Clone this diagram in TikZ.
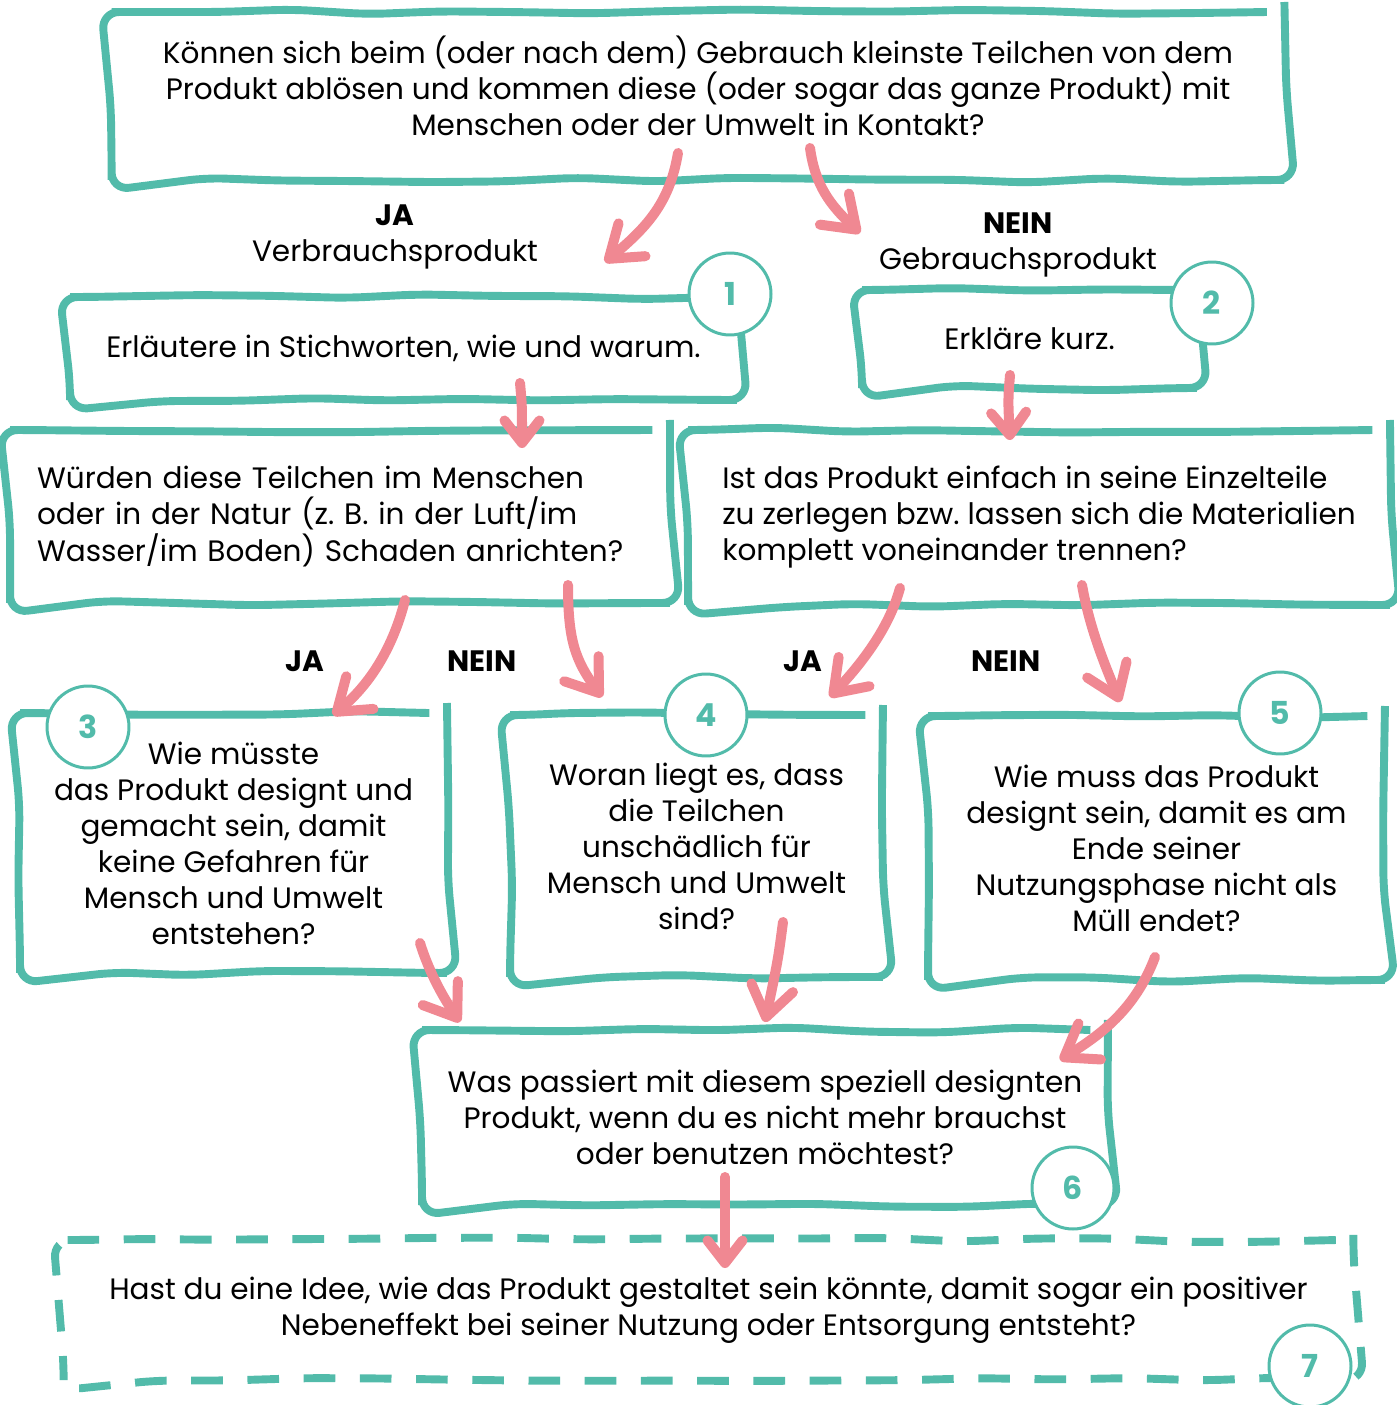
\documentclass[tikz,border=0pt]{standalone}
\usepackage{fontspec}
\setmainfont{Poppins}
\frenchspacing
\usetikzlibrary{arrows.meta,decorations.pathmorphing}
\definecolor{tealline}{HTML}{52BBAA}
\definecolor{pinkarrow}{HTML}{F08892}
\tikzset{
 box/.style={draw=tealline, line width=4.5pt, decorate,
  decoration={random steps, segment length=1.5cm, amplitude=1.5pt},
  rounded corners=10pt, align=center},
 dbox/.style={box, dash pattern=on 18pt off 14pt},
 num/.style={circle, draw=tealline, line width=1.7pt, fill=white,
  minimum size=1.64cm, text=tealline, font=\fontsize{18}{20}\selectfont\bfseries},
 lab/.style={align=center},
 jn/.style={font=\fontsize{16.8}{20.5}\selectfont\bfseries},
 arr/.style={draw=pinkarrow, line width=5.7pt, line cap=round,
  -{Straight Barb[length=6mm,width=8.5mm,round]}},
 sarr/.style={arr, -{Straight Barb[length=4.5mm,width=7mm,round]}},
}
\begin{document}
\begin{tikzpicture}[x=0.02cm, y=-0.02cm, font=\fontsize{16.8}{20.5}\selectfont]
 \useasboundingbox (0,0) rectangle (1396,1405);
 \pgfmathsetseed{3}
 \node[box, minimum width=23.46cm, minimum height=3.36cm] (frage) at (698,96)
  {Können sich beim (oder nach dem) Gebrauch kleinste Teilchen von dem\\
   Produkt ablösen und kommen diese (oder sogar das ganze Produkt) mit\\
   Menschen oder der Umwelt in Kontakt?\rule[-0.4cm]{0pt}{0pt}};
 \node[lab] (ja0) at (395,237) {\textbf{JA}\\Verbrauchsprodukt};
 \node[lab] (nein0) at (1018,245) {\textbf{NEIN}\\Gebrauchsprodukt};
 \node[box, minimum width=13.34cm, minimum height=2.06cm] (stich) at (403.5,348.5)
  {Erläutere in Stichworten, wie und warum.};
 \node[box, minimum width=6.7cm, minimum height=1.96cm] (kurz) at (1029.5,339)
  {Erkläre kurz.};
 \node[box, minimum width=13.2cm, minimum height=3.46cm, align=left,
  text width=12.12cm, inner xsep=0.54cm] (schaden) at (340,516.5)
  {Würden diese Teilchen im Menschen\\
   oder in der Natur (z.~B. in der Luft/im\\
   Wasser/im Boden) Schaden anrichten?};
 \node[box, minimum width=14.04cm, minimum height=3.5cm, align=left] (zerlegen) at (1039,517.5)
  {Ist das Produkt einfach in seine Einzelteile\\
   zu zerlegen bzw. lassen sich die Materialien\\
   komplett voneinander trennen?};
 \node[jn] (ja1) at (305,661) {JA};
 \node[jn] (nein1) at (482,661) {NEIN};
 \node[jn] (ja2) at (803,661) {JA};
 \node[jn] (nein2) at (1006,661) {NEIN};
 \node[box, minimum width=8.54cm, minimum height=5.2cm] (gefahr) at (233.5,843)
  {Wie müsste\\das Produkt designt und\\gemacht sein, damit\\keine Gefahren für\\
   Mensch und Umwelt\\entstehen?};
 \node[box, minimum width=7.46cm, minimum height=5.24cm] (woran) at (696.5,846)
  {Woran liegt es, dass\\die Teilchen\\unschädlich für\\Mensch und Umwelt\\sind?};
 \node[box, minimum width=9.14cm, minimum height=5.28cm] (muell) at (1156.5,848)
  {Wie muss das Produkt\\designt sein, damit es am\\Ende seiner\\
   Nutzungsphase nicht als\\Müll endet?};
 \node[box, minimum width=13.72cm, minimum height=3.5cm] (ende) at (765,1117.5)
  {Was passiert mit diesem speziell designten\\
   Produkt, wenn du es nicht mehr brauchst\\oder benutzen möchtest?};
 \node[dbox, minimum width=25.8cm, minimum height=2.8cm] (idee) at (708.5,1310)
  {Hast du eine Idee, wie das Produkt gestaltet sein könnte, damit sogar ein positiver\\
   Nebeneffekt bei seiner Nutzung oder Entsorgung entsteht?};
 \node[num] (n1) at (730,294) {1};
 \node[num] (n2) at (1212,303) {2};
 \node[num] (n3) at (88,727) {3};
 \node[num] (n4) at (706,715) {4};
 \node[num] (n5) at (1280,713) {5};
 \node[num] (n6) at (1073,1188) {6};
 \node[num] (n7) at (1310,1366) {7};
 \coordinate (a1s) at (678,153);  \coordinate (a1e) at (605,262);
 \coordinate (a2s) at (810,148);  \coordinate (a2e) at (860,233);
 \coordinate (a3s) at (520,383);  \coordinate (a3e) at (522,448);
 \coordinate (a4s) at (1010,375); \coordinate (a4e) at (1010,440);
 \coordinate (a5s) at (405,600);  \coordinate (a5e) at (333,715);
 \coordinate (a6s) at (568,585);  \coordinate (a6e) at (602,697);
 \coordinate (a7s) at (900,588);  \coordinate (a7e) at (830,697);
 \coordinate (a8s) at (1082,585); \coordinate (a8e) at (1120,702);
 \coordinate (a9s) at (420,943);  \coordinate (a9e) at (460,1022);
 \coordinate (a10s) at (783,922); \coordinate (a10e) at (765,1022);
 \coordinate (a11s) at (1155,957); \coordinate (a11e) at (1060,1060);
 \coordinate (a12s) at (725,1177); \coordinate (a12e) at (725,1268);
 \draw[arr] (a1s) .. controls (670,200) and (650,225) .. (a1e);
 \draw[arr] (a2s) .. controls (815,185) and (830,205) .. (a2e);
 \draw[sarr] (a3s) .. controls (522,405) .. (a3e);
 \draw[sarr] (a4s) .. controls (1008,400) .. (a4e);
 \draw[arr] (a5s) .. controls (395,640) and (375,680) .. (a5e);
 \draw[arr] (a6s) .. controls (568,640) and (575,660) .. (a6e);
 \draw[arr] (a7s) .. controls (890,625) and (865,660) .. (a7e);
 \draw[arr] (a8s) .. controls (1090,630) and (1105,665) .. (a8e);
 \draw[arr] (a9s) .. controls (430,975) and (445,1000) .. (a9e);
 \draw[arr] (a10s) .. controls (778,960) .. (a10e);
 \draw[arr] (a11s) .. controls (1135,1010) and (1100,1035) .. (a11e);
 \draw[sarr] (a12s) -- (a12e);
\end{tikzpicture}
\end{document}
